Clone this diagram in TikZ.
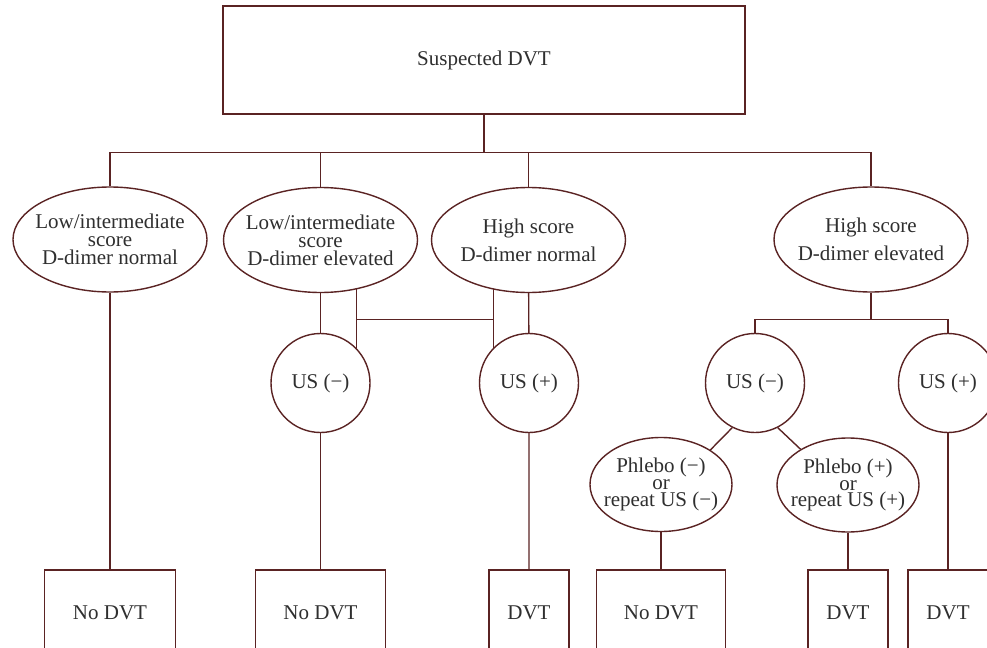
\documentclass[tikz,border=0pt]{standalone}
\usepackage{fontspec}
\setmainfont{Liberation Serif}
\usetikzlibrary{shapes,positioning,backgrounds}
\definecolor{FlowBrown}{HTML}{5A2323}
\definecolor{TextGrey}{HTML}{2F2F2F}
\tikzset{
	box/.style={draw=FlowBrown,fill=white,minimum height=43pt,inner sep=0pt},
	oval/.style={ellipse,draw=FlowBrown,fill=white,minimum width=97pt,minimum height=52.5pt,inner sep=-8pt,align=center},
	smalloval/.style={oval,minimum width=71pt,minimum height=47pt,font=\fontsize{10.5}{8.3}\selectfont},
	usnode/.style={circle,draw=FlowBrown,fill=white,minimum size=49.5pt,inner sep=0pt},
	link/.style={draw=FlowBrown}
}
\begin{document}
\begin{tikzpicture}[x=0.5pt,y=-0.5pt,line width=0.7pt,font=\fontsize{10.5}{9}\selectfont,text=TextGrey]
		\clip (0,0) rectangle (987,648);
		\node[box,minimum width=261pt,minimum height=54pt] (top) at (484,60) {Suspected DVT};
		% scores
		\node[oval] (lown) at (110,239.5) {Low/intermediate\\score\\D-dimer normal};
		\node[oval] (lowe) at (320.5,240) {Low/intermediate\\score\\D-dimer elevated};
		\node[oval,font=\fontsize{10.5}{14}\selectfont] (highn) at (528.5,240) {High score\\D-dimer normal};
		\node[oval,font=\fontsize{10.5}{14}\selectfont] (highe) at (871,239.5) {High score\\D-dimer elevated};
		% ultrasound
		\node[usnode] (usneg) at (320.5,383) {US (−)};
		\node[usnode] (uspos) at (529,383) {US (+)};
		\node[usnode] (usnegb) at (755,383) {US (−)};
		\node[usnode] (usposb) at (948,383) {US (+)};
		\node[smalloval] (phneg) at (661,484.5) {Phlebo (−)\\or\\repeat US (−)};
		\node[smalloval] (phpos) at (848,485) {Phlebo (+)\\or\\repeat US (+)};
		% outcomes
		\node[box,minimum width=65.5pt] (nodvta) at (110,613) {No DVT};
		\node[box,minimum width=65pt] (nodvtb) at (320.5,613) {No DVT};
		\node[box,minimum width=40pt] (dvta) at (529,613) {DVT};
		\node[box,minimum width=64.5pt] (nodvtc) at (661,613) {No DVT};
		\node[box,minimum width=40pt] (dvtb) at (848,613) {DVT};
		\node[box,minimum width=40pt] (dvtc) at (948,613) {DVT};
		\coordinate (lka) at (356,319);
		\coordinate (lkb) at (493,319);
		\draw[link] (top.south) -- ++(0,38) coordinate (bus);
		\draw[link] (lown.north) |- (bus) -| (highe.north);
		\draw[link] (lowe.north) -- (lowe.north |- bus);
		\draw[link] (highn.north) -- (highn.north |- bus);
		\draw[link] (lown) -- (nodvta);
		\draw[link] (lowe) -- (usneg) -- (nodvtb);
		\draw[link] (highn) -- (uspos) -- (dvta);
		\begin{scope}[on background layer]
		\draw[link] (lowe.center -| lka) -- (lka) -- (lkb) -- (highn.center -| lkb);
		\draw[link] (lka) -- (usneg.center -| lka);
		\draw[link] (lkb) -- (uspos.center -| lkb);
		\end{scope}
		\draw[link] (highe.south) -- ++(0,27) coordinate (split);
		\draw[link] (usnegb.north) |- (split) -| (usposb.north);
		\draw[link] (usnegb.243) -- (phneg.35);
		\draw[link] (usnegb.297) -- (phpos.143);
		\draw[link] (phneg) -- (nodvtc);
		\draw[link] (phpos) -- (dvtb);
		\draw[link] (usposb) -- (dvtc);
		\end{tikzpicture}
\end{document}
